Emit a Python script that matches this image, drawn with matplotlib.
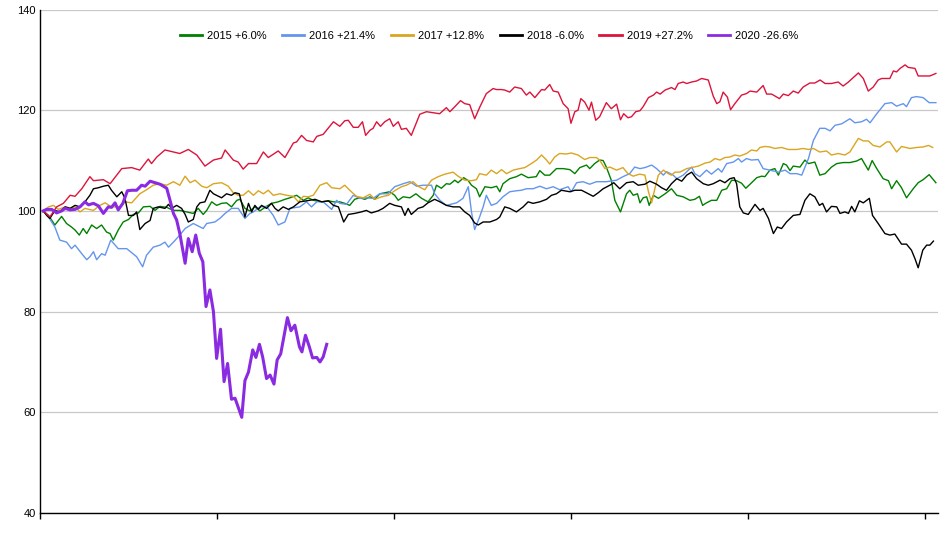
import matplotlib
matplotlib.use("Agg")
import matplotlib.pyplot as plt

plt.rcParams['font.family'] = ['Liberation Sans', 'DejaVu Sans']

# trading day index / indexed value (start = 100)
d2015 = [0.9, 2.4, 4.2, 6.1, 7.5, 8.9, 9.9, 11.1, 12.2, 13.2, 14.6, 16.0, 17.4, 18.8, 19.8, 20.7, 22.1, 23.5, 25.0, 26.4,
         27.8, 29.2, 31.1, 32.5, 33.9, 35.8, 37.7, 39.5, 41.4, 43.3, 44.7, 46.1, 47.1, 48.5, 49.9, 51.3, 52.7, 54.1, 55.6,
         56.5, 57.9, 59.3, 60.7, 62.1, 64.0, 65.4, 67.3, 69.2, 70.6, 72.5, 74.4, 75.8, 77.2, 79.6, 81.5, 82.9,
         84.7, 86.1, 87.5, 88.9, 90.3, 91.8, 93.2, 94.6, 96.0, 97.4, 98.8, 100.2, 101.2, 102.6, 104.5, 106.2, 107.8, 109.6,
         111.1, 112.0, 113.4, 114.8, 115.8, 117.2, 118.1, 119.7, 121.0, 121.9, 123.3, 124.2, 125.7, 127.5, 129.0, 129.9,
         130.8, 132.7, 134.6, 136.0, 137.9, 140.2, 141.2, 142.6, 144.0, 145.9, 147.8, 149.7, 151.1, 152.5, 154.4, 155.3,
         156.7, 158.1, 159.1, 160.0, 161.4, 162.4, 164.0, 165.7, 166.6, 167.6, 168.8,
         169.5, 170.4, 171.4, 172.1, 173.3, 174.7, 176.6, 178.4, 179.9, 181.7, 183.6, 185.0, 186.3, 187.2, 188.3, 189.7,
         191.2, 192.6, 194.0, 195.4, 196.8, 198.2, 199.4, 200.6, 202.5, 203.9, 204.8, 206.2, 207.6, 208.6, 210.0, 210.9,
         211.9, 212.8, 214.7, 216.1, 217.1, 218.9, 220.3, 221.8, 223.6, 225.1, 226.9, 228.8, 230.7, 232.1, 234.0, 235.1,
         236.4, 238.2, 239.7, 240.6, 242.0, 243.4, 244.8, 246.7, 248.1, 249.5, 251.2, 253.1]
v2015 = [100, 99.1, 97.2, 98.9, 97.5, 96.8, 96.2, 95.2, 96.5, 95.5, 97.2, 96.5, 97.2, 95.8, 95.5, 94.2, 96.2, 97.8, 98.3, 99.3,
         99.6, 100.8, 100.9, 100.1, 100.9, 100.7, 100.1, 100.1, 99.8, 99.5, 100.5, 99.3, 100.1, 101.8, 101.1, 101.5, 101.6,
         100.8, 102.1, 102.3, 100.5, 100.0, 100.8, 100.0, 100.9, 101.5, 101.8, 102.3, 102.6, 103.1, 102.1, 102.6, 102.1,
         101.8, 102.0, 101.8,
         101.8, 101.5, 101.1, 102.3, 102.6, 102.3, 102.8, 102.3, 103.4, 103.6, 103.8, 103.1, 102.1, 102.8, 102.6, 103.4,
         102.5, 101.8, 103.1, 105.1, 104.5, 105.4, 105.3, 106.1, 105.6, 106.6, 106.0, 105.1, 104.4, 102.8, 104.8, 104.6,
         104.9, 103.8, 105.4, 106.4, 106.8, 107.3, 106.6, 106.8, 108.0, 107.1, 107.1, 108.4, 108.4, 108.2, 107.4, 108.6,
         109.1, 108.4, 109.4, 110.1, 110.0, 108.7, 106.1, 102.1, 99.8, 103.4, 104.1, 103.1, 103.4,
         101.6, 102.6, 102.8, 101.1, 103.1, 102.5, 103.4, 104.4, 103.1, 102.8, 102.1, 102.3, 102.9, 101.1, 101.6, 102.1,
         102.1, 104.1, 104.4, 106.1, 106.0, 105.5, 104.5, 105.3, 106.6, 106.9, 106.8, 108.1, 108.4, 107.1, 109.4, 109.1,
         108.0, 108.9, 108.7, 110.1, 109.4, 109.7, 107.1, 107.4, 108.7, 109.4, 109.6, 109.6, 109.9, 110.4, 108.1, 110.0,
         108.4, 106.4, 106.0, 104.4, 106.0, 104.6, 102.6, 104.4, 105.6, 106.2, 107.2, 105.6]

d2016 = [0.9, 2.4, 4.2, 5.6, 7.5, 8.9, 9.9, 11.8, 13.2, 14.1, 15.1, 16.0, 17.4, 18.4, 20.0, 22.1, 24.5, 27.3, 29.0, 30.1,
         32.0, 33.9, 35.3, 36.3, 37.7, 39.5, 41.0, 43.3, 46.1, 47.1, 49.4, 50.8, 52.3, 54.1, 56.0, 57.9, 59.3, 60.3, 62.1,
         64.0, 65.9, 67.3, 69.2, 70.6, 73.4, 75.3, 76.7, 78.2, 80.0, 82.4, 83.8,
         84.7, 86.6, 88.5, 90.3, 92.2, 94.1, 96.0, 98.3, 100.2, 102.6, 104.5, 106.4, 108.2, 110.6, 111.5, 113.0, 114.8,
         117.7, 119.5, 121.0, 121.9, 122.8, 124.2, 125.2, 126.1, 127.5, 129.0, 130.8, 132.7, 134.6, 136.0, 137.4, 139.3,
         141.2, 143.1, 145.0, 146.8, 149.2, 150.1, 151.6, 153.4, 155.3, 157.2, 160.0, 162.9, 164.7, 166.6, 168.0,
         169.5, 170.9, 172.8, 174.2, 176.1, 177.0, 178.9, 179.9, 181.7, 184.1, 185.0, 186.4, 188.3, 189.7, 191.6, 192.6,
         194.0, 195.9, 197.3, 198.2, 199.6, 201.0, 202.9, 204.3, 206.2, 208.6, 210.5, 211.9, 213.8, 215.2, 217.1, 218.5,
         220.3, 221.8, 223.2, 224.6, 226.5, 228.8, 230.2, 232.1, 233.5, 234.5, 236.4, 238.7, 240.6, 242.0, 243.9, 244.8,
         246.2, 247.6, 249.5, 251.2, 253.1]
v2016 = [100, 98.8, 96.8, 94.2, 93.8, 92.5, 93.2, 91.5, 90.3, 90.9, 91.9, 90.3, 91.5, 91.2, 94.2, 92.5, 92.5, 90.9, 88.9, 91.2,
         92.8, 93.2, 93.8, 92.8, 93.8, 95.2, 96.5, 97.5, 96.5, 97.5, 97.8, 98.5, 99.5, 100.5, 100.5, 98.5, 99.5, 99.8, 100.8,
         100.9, 99.1, 97.2, 97.8, 100.5, 100.8, 101.8, 100.8, 101.8, 101.8, 100.3, 102.1,
         101.5, 101.3, 103.1, 102.5, 102.6, 102.5, 103.4, 103.4, 104.8, 105.4, 105.8, 104.9, 105.1, 105.1, 103.4, 102.1,
         101.1, 101.6, 102.5, 104.8, 99.8, 96.3, 98.8, 100.8, 103.1, 101.1, 101.5, 102.8, 103.8, 104.0, 104.1, 104.4,
         104.4, 104.9, 104.4, 104.8, 104.2, 104.8, 103.8, 105.6, 105.8, 105.3, 105.8, 105.8, 106.1, 106.8, 107.4, 108.7,
         108.4, 108.6, 109.1, 108.4, 107.1, 107.8, 107.1, 106.4, 107.1, 108.7, 107.4, 106.8, 108.1, 107.3, 108.4, 107.7,
         109.4, 109.7, 110.4, 109.7, 110.4, 110.1, 110.2, 108.4, 108.1, 107.7, 108.1, 107.4, 107.4, 107.1, 110.4, 114.0,
         116.4, 116.4, 115.9, 117.0, 117.3, 118.3, 117.5, 117.7, 118.2, 117.5, 119.3, 121.3, 121.5, 120.8, 121.3, 120.7,
         122.5, 122.7, 122.5, 121.5, 121.5]

d2017 = [0.9, 2.4, 3.8, 5.2, 7.1, 8.9, 9.9, 11.3, 12.7, 15.1, 16.9, 18.4, 20.2, 22.6, 24.0, 25.9, 28.2, 30.1, 32.0, 33.9,
         35.8, 37.7, 39.5, 41.0, 42.4, 43.8, 45.7, 47.1, 49.0, 51.3, 53.2, 54.6, 56.0, 57.4, 58.9, 60.3, 61.7, 63.1, 64.5,
         65.9, 67.8, 69.7, 71.6, 73.0, 74.4, 75.8, 77.2, 79.1, 81.0, 82.4,
         84.7, 86.1, 87.5, 89.4, 91.3, 93.2, 94.6, 96.5, 98.4, 100.2, 102.1, 103.5, 105.4, 106.8, 108.7, 110.6, 112.5,
         114.4, 116.7, 118.1, 120.0, 121.9, 123.3, 124.2, 126.1, 127.5, 129.0, 130.4, 131.8, 133.7, 135.5, 137.0, 138.8,
         140.3, 141.7, 143.1, 144.0, 145.4, 146.8, 148.7, 150.1, 152.0, 153.9, 155.3, 157.2, 158.1, 159.6, 161.0, 162.9,
         164.7, 166.1, 167.6, 169.4,
         170.9, 171.9, 172.8, 173.7, 174.7, 176.1, 177.5, 178.4, 179.4, 180.8, 182.7, 184.6, 186.0, 187.9, 189.3, 190.7,
         192.1, 193.5, 194.9, 196.3, 197.7, 199.6, 201.0, 202.5, 203.4, 204.8, 206.2, 207.6, 209.5, 211.4, 213.8, 215.6,
         217.1, 218.5, 220.3, 222.2, 223.6, 225.5, 227.4, 228.8, 231.2, 232.6, 234.0, 235.4, 237.3, 239.2, 240.1, 242.0,
         243.4, 245.8, 247.7, 249.5, 251.0, 252.2]
v2017 = [100, 100.8, 101.1, 100.3, 100.8, 100.5, 100.8, 99.8, 100.5, 100.1, 101.1, 101.6, 100.8, 100.8, 101.8, 101.6, 103.4,
         104.2, 105.1, 105.4, 105.1, 105.8, 105.1, 106.9, 105.6, 106.1, 104.9, 104.6, 105.4, 105.6, 104.9, 103.6, 103.1,
         103.1, 104.0, 103.1, 104.0, 103.4, 104.1, 103.1, 103.4, 103.1, 102.9, 101.8, 102.9, 102.8, 103.1, 105.1, 105.6,
         104.6,
         104.4, 105.1, 104.1, 102.9, 102.6, 103.3, 102.3, 102.8, 103.1, 104.0, 104.8, 105.1, 105.8, 104.9, 104.2, 106.1,
         106.8, 107.3, 107.7, 106.9, 106.1, 106.0, 106.2, 107.4, 107.1, 108.1, 107.4, 108.2, 107.4, 108.1, 108.4, 108.6,
         109.4, 110.1, 111.1, 110.1, 109.3, 110.7, 111.4, 111.3, 111.5, 111.1, 110.2, 110.6, 110.6, 110.1, 108.4, 108.7,
         108.1, 108.6, 107.4, 106.9, 107.3,
         107.1, 103.8, 101.6, 104.4, 107.1, 108.1, 107.4, 107.1, 107.7, 107.7, 108.4, 108.7, 108.9, 109.5, 109.7, 110.4,
         110.1, 110.6, 110.7, 111.1, 110.9, 111.4, 112.1, 111.9, 112.6, 112.8, 112.7, 112.4, 112.6, 112.2, 112.2, 112.4,
         112.2, 112.4, 111.7, 111.9, 111.1, 111.4, 111.1, 111.7, 114.4, 113.9, 113.9, 113.0, 112.7, 113.7, 113.7, 111.7,
         112.8, 112.4, 112.6, 112.7, 113.0, 112.6]

d2018 = [0.9, 1.9, 2.8, 4.2, 5.6, 7.1, 8.5, 9.9, 11.3, 12.7, 14.1, 15.1, 16.5, 17.9, 19.3, 20.2, 21.7, 23.1, 24.0, 25.0,
         26.4, 27.3, 28.2, 29.7, 31.1, 32.0, 33.4, 35.3, 36.3, 37.2, 38.6, 40.0, 41.0, 41.9, 43.3, 44.3, 45.2, 46.6, 48.0,
         49.0, 50.4, 51.3, 52.7, 54.1, 55.1, 56.3, 57.0, 57.9, 58.9, 59.8, 60.7, 61.7, 62.6, 64.0, 65.4, 66.4, 67.3, 68.7,
         70.2, 71.6, 73.4, 75.3, 77.7, 79.6, 81.5, 82.9, 84.3,
         85.8, 87.1, 88.9, 90.8, 92.2, 93.6, 95.5, 96.9, 98.8, 100.2, 102.1, 103.1, 104.0, 104.9, 106.8, 108.2, 109.6,
         111.5, 113.0, 114.8, 116.7, 118.6, 120.0, 121.4, 122.8, 123.8, 125.2, 127.1, 129.0, 129.9, 131.3, 132.7, 134.6,
         136.5, 137.9, 139.3, 141.2, 143.1, 144.5, 145.9, 147.3, 149.7, 151.1, 153.0, 154.9, 156.3, 157.7, 159.1, 161.0,
         162.1, 163.8, 165.7, 167.6, 169.0,
         170.9, 172.3, 174.2, 175.6, 177.0, 178.4, 179.9, 181.3, 182.7, 184.1, 185.5, 187.4, 188.8, 190.2, 192.1, 193.5,
         194.9, 196.1, 196.8, 197.7, 198.7, 200.1, 202.0, 203.4, 204.3, 205.8, 207.2, 208.3, 209.5, 210.9, 212.8, 214.7,
         216.1, 217.5, 218.9, 220.2, 221.1, 222.2, 223.6, 225.1, 226.0, 227.4, 228.4, 229.3, 230.2, 231.5, 232.6, 234.3,
         235.2, 236.8, 238.7, 240.1, 241.5, 243.4, 244.8, 246.2, 247.2, 248.1, 249.4, 250.5, 251.4, 252.4]
v2018 = [100, 99.1, 98.5, 100.1, 99.8, 100.8, 100.5, 101.1, 100.8, 101.8, 103.1, 104.4, 104.6, 104.9, 105.1, 104.1, 102.8,
         103.8, 102.5, 99.1, 99.1, 99.8, 96.3, 97.5, 98.1, 100.5, 100.8, 100.5, 101.3, 100.5, 101.1, 100.5, 99.3, 97.8,
         98.3, 100.8, 101.6, 101.8, 104.1, 103.4, 102.9, 102.6, 103.4, 103.1, 103.6, 103.4, 101.5, 98.8, 101.5, 99.8,
         101.1, 100.3, 101.1, 100.5, 101.5, 100.5, 100.0, 100.8, 100.3, 100.8, 101.8, 102.0, 102.3, 101.8, 102.0, 101.1,
         100.8,
         97.8, 99.3, 99.5, 99.8, 100.1, 99.6, 100.0, 100.5, 101.5, 101.1, 100.8, 99.1, 100.5, 99.3, 100.5, 100.8, 101.6,
         102.3, 101.8, 101.1, 100.8, 100.8, 99.8, 99.1, 97.6, 97.2, 97.8, 97.8, 98.3, 98.8, 100.8, 100.5, 99.8, 100.8,
         101.8, 101.5, 101.8, 102.3, 103.1, 103.4, 104.1, 103.8, 104.1, 104.1, 103.4, 102.9, 103.6, 104.4, 105.1, 105.6,
         104.4, 105.6, 105.8, 105.1,
         105.3, 105.9, 105.3, 104.6, 104.1, 105.4, 106.4, 105.9, 107.1, 107.7, 106.4, 105.4, 105.1, 105.4, 106.1, 105.6,
         106.4, 106.6, 105.4, 100.8, 99.6, 99.3, 101.3, 100.1, 100.5, 98.5, 95.5, 96.8, 96.5, 97.8, 99.1, 99.3, 102.1,
         103.4, 102.8, 101.1, 101.5, 99.8, 100.9, 100.8, 99.5, 99.8, 99.5, 100.9, 99.8, 102.0, 101.6, 102.5, 99.1, 97.5,
         95.5, 95.2, 95.4, 93.4, 93.4, 92.2, 90.5, 88.7, 92.2, 93.2, 93.2, 94.0]

d2019 = [0.9, 2.8, 4.7, 6.6, 8.5, 9.9, 11.8, 14.1, 15.1, 17.9, 19.8, 23.1, 25.9, 28.2, 30.6, 31.5, 33.0, 35.3, 37.7, 39.5,
         41.9, 44.3, 46.6, 49.0, 51.3, 52.3, 54.6, 56.0, 57.4, 58.9, 61.2, 63.1, 64.5, 67.3, 69.2, 71.6, 72.5, 73.9, 75.3,
         77.2, 78.2, 80.0, 82.9,
         84.7, 86.1, 87.1, 88.5, 89.9, 91.1, 92.0, 93.2, 94.1, 95.1, 96.2, 97.4, 98.8, 99.8, 101.2, 102.1, 103.5, 104.9,
         107.3, 109.2, 112.9, 114.8, 115.8, 117.2, 118.8, 120.0, 121.4, 122.8, 124.3, 126.1, 128.0, 129.0, 130.4, 131.3,
         132.7, 134.1, 136.0, 137.4, 138.4, 139.8, 141.7, 142.6, 144.0, 145.0, 146.4, 147.8, 149.2, 150.0, 151.1, 152.0,
         152.8, 153.9, 155.1, 155.8, 157.0, 158.1, 160.0, 161.4, 162.9, 164.0, 164.9, 166.1, 167.1, 168.3,
         169.5, 170.4, 171.9, 173.3, 174.2, 175.2, 176.6, 178.4, 179.4, 180.3, 181.7, 182.7, 184.1, 185.5, 186.9, 188.8,
         190.2, 191.2, 192.1, 193.0, 194.2, 195.1, 196.3, 198.2, 199.6, 200.6, 202.5, 204.3, 205.3, 206.7, 208.9, 210.0,
         211.4, 212.8, 214.2, 215.6, 217.5, 218.9, 220.4, 221.8, 223.6, 225.5, 226.9, 228.4, 231.2, 232.6, 234.0, 235.4,
         236.8, 237.8, 240.1, 241.1, 242.0, 243.0, 244.4, 245.3, 247.2, 248.1, 250.0, 251.4, 253.1]
v2019 = [100, 98.8, 100.8, 101.5, 103.1, 102.9, 104.4, 106.8, 106.0, 106.2, 105.4, 108.4, 108.6, 108.1, 110.3, 109.4, 110.7,
         112.1, 111.7, 111.4, 112.2, 111.1, 108.9, 110.1, 110.5, 112.1, 110.1, 109.7, 108.3, 109.4, 109.4, 111.7, 110.6,
         111.9, 110.6, 113.5, 113.7, 115.0, 114.0, 113.7, 114.8, 115.2, 117.7,
         116.8, 117.9, 118.0, 116.6, 116.6, 117.7, 115.0, 116.0, 116.4, 117.7, 116.8, 117.7, 118.3, 116.8, 117.7, 116.2,
         116.4, 115.0, 119.2, 119.7, 119.3, 120.5, 119.7, 120.7, 121.9, 121.3, 121.1, 118.3, 120.7, 123.3, 124.3, 124.1,
         124.1, 124.0, 123.6, 124.6, 124.3, 123.0, 123.6, 122.5, 124.1, 124.0, 125.1, 123.8, 123.6, 121.3, 120.3, 117.4,
         119.7, 120.0, 122.3, 121.6, 120.0, 121.6, 118.0, 118.7, 121.5, 120.3, 121.2, 118.1, 119.3, 118.5, 118.7, 119.7,
         119.9, 120.7, 122.5, 123.0, 123.6, 123.2, 124.0, 124.5, 124.1, 125.3, 125.6, 125.3, 125.6, 125.8, 126.3, 126.0,
         122.8, 121.3, 121.7, 123.6, 122.6, 120.1, 121.3, 123.0, 123.3, 123.8, 123.6, 124.9, 123.2, 123.2, 122.3, 123.2,
         122.9, 123.8, 123.4, 124.6, 125.4, 125.4, 126.0, 125.3, 125.3, 125.6, 124.8, 125.6, 127.4, 126.3, 123.8, 124.6,
         126.0, 126.3, 126.3, 127.8, 127.6, 128.3, 129.0, 128.5, 128.3, 126.8, 126.8, 126.8, 127.3]

d2020 = [0.9, 1.9, 3.3, 4.7, 6.1, 7.1, 8.5, 9.9, 11.3, 12.7, 13.7, 15.1, 16.5, 17.9, 19.3, 20.2, 21.2, 22.1, 23.4, 24.7,
         25.9, 27.3, 28.7, 29.7, 31.1, 32.5, 33.9, 35.8, 36.7, 37.7, 38.6, 39.5, 41.0, 41.9, 43.0, 44.0, 45.0, 46.0, 46.9,
         48.0, 49.0, 49.9, 51.0, 52.0, 53.0, 54.1, 55.1, 56.0, 57.0, 57.9, 58.9, 60.1, 61.0, 62.0, 62.9, 64.0, 65.0, 66.1,
         67.0, 68.0, 68.9, 69.9, 70.9, 72.0, 73.3, 74.0, 75.0, 76.1, 77.0, 78.2, 79.1, 80.0, 81.0]
v2020 = [100, 100.3, 100.3, 99.6, 100, 100.5, 100.2, 100.3, 100.8, 101.8, 101.2, 101.5, 101.0, 99.5, 100.8, 100.7, 101.6,
         100.2, 101.5, 104.0, 104.1, 104.1, 105.1, 104.9, 105.9, 105.6, 105.3, 104.5, 102.2, 99.5, 98.2, 95.5, 89.6, 94.5,
         91.9, 95.2, 91.6, 89.9, 81.0, 84.3, 80.0, 70.7, 76.5, 66.1, 69.7, 62.6, 62.8, 61.0, 59.0, 66.3, 68.0, 72.4, 70.9,
         73.5, 71.0, 66.7, 67.4, 65.6, 70.4, 71.6, 75.0, 78.8, 76.2, 77.3, 73.0, 72.0, 75.3, 73.0, 70.8, 70.9, 70.0, 71.0,
         73.5]

labels = ["2015 +6.0%", "2016 +21.4%", "2017 +12.8%", "2018 -6.0%", "2019 +27.2%", "2020 -26.6%"]
colors = ["#008000", "#6495ED", "#DAA520", "#000000", "#DC143C", "#8A2BE2"]
yticks = [40, 60, 80, 100, 120, 140]
xticks = [0, 50, 100, 150, 200, 250]

fig = plt.figure(figsize=(9.4, 5.5), dpi=100)
ax = fig.add_axes([40 / 940, 1 - 513 / 550, 898 / 940, 503.5 / 550])

series = [(d2015, v2015), (d2016, v2016), (d2017, v2017), (d2018, v2018), (d2019, v2019), (d2020, v2020)]
for i, (d, v) in enumerate(series):
    lw = 2.2 if i == 5 else 1.0
    ax.plot(d, v, color=colors[i], lw=lw, label=labels[i])

ax.set_xlim(0, 253.7)
ax.set_ylim(40, 140)
ax.set_yticks(yticks)
ax.set_xticks(xticks)
ax.set_xticklabels([])
ax.grid(axis='y', color='#c8c8c8', lw=0.9)
ax.set_axisbelow(True)
for s in ['top', 'right']:
    ax.spines[s].set_visible(False)
ax.spines['left'].set_linewidth(1.0)
ax.spines['bottom'].set_linewidth(1.0)
ax.tick_params(axis='y', length=0, pad=3, labelsize=8)
ax.tick_params(axis='x', length=4, width=1, direction='out')

leg = ax.legend(loc='center', bbox_to_anchor=(0.5, 0.947), ncol=6, frameon=False, fontsize=8,
                handlelength=2.0, handletextpad=0.45, columnspacing=1.4)
for h in leg.get_lines():
    h.set_linewidth(2.0)

fig.savefig("out.png", dpi=100)
